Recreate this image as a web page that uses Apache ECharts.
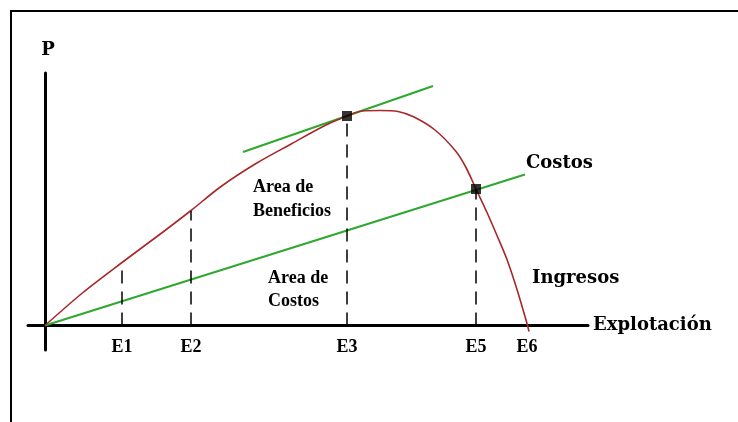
<!DOCTYPE html>
<html>
<head>
<meta charset="utf-8">
<script src="https://cdn.jsdelivr.net/npm/echarts@6.0.0/dist/echarts.min.js"></script>
<style>
  html, body { margin: 0; padding: 0; background: #fff; }
  #chart { width: 738px; height: 422px; }
</style>
</head>
<body>
<div id="chart"></div>
<script>
// curva de ingresos (x = explotacion, y = P)
const ingresos = [
  [0, 0], [38, 33], [77, 63], [120, 95], [146, 115], [176, 139], [211, 162],
  [247, 182], [280, 200], [302, 209.5], [317, 214.5], [335, 215], [353, 214],
  [369, 208.5], [390, 195.5], [411, 174], [421, 158], [431, 136.5],
  [442, 113], [452, 90], [462, 66], [472, 36], [482, 2], [484, -6]
]
const costos = [[0, 0], [480, 151]]
const tangente = [[198, 173.5], [388, 239.5]]
const puntos = [[302, 209.5], [431, 136.5]]

// marcas del eje x
const ePos = [77, 146, 302, 431, 482]
const eLabels = ['E1', 'E2', 'E3', 'E5', 'E6']
// altura de las lineas discontinuas
const eTop = [63, 114.5, 209.5, 136.5]

const chart = echarts.init(document.getElementById('chart'))

const dashLines = eTop.map((h, i) => [{ coord: [ePos[i], 0] }, { coord: [ePos[i], h] }])

const serifBold = 'bold 18px "Liberation Serif"'
const wideBold = 'bold 18px "DejaVu Serif"'

const option = {
  backgroundColor: '#fff',
  animation: false,
  grid: { left: 28, right: 150, top: 73, bottom: 72 },
  xAxis: {
    type: 'value',
    min: -17,
    max: 543,
    name: 'Explotación',
    nameLocation: 'end',
    nameGap: 5,
    nameTextStyle: { color: '#000', fontFamily: 'DejaVu Serif', fontWeight: 'bold', fontSize: 18, padding: [4, 0, 0, 0] },
    axisLine: { onZero: true, lineStyle: { color: '#000', width: 3 } },
    axisTick: { show: false },
    splitLine: { show: false },
    axisLabel: {
      customValues: ePos,
      margin: -12,
      color: '#000',
      fontFamily: 'Liberation Serif',
      fontWeight: 'bold',
      fontSize: 18,
      formatter: function(v) {
        const i = ePos.indexOf(v)
        return i >= 0 ? eLabels[i] : ''
      }
    }
  },
  yAxis: {
    type: 'value',
    min: -24.5,
    max: 252.5,
    name: 'P',
    nameLocation: 'end',
    nameGap: 14,
    nameTextStyle: { color: '#000', fontFamily: 'DejaVu Serif', fontWeight: 'bold', fontSize: 18, padding: [0, 0, 0, 6] },
    axisLine: { onZero: true, lineStyle: { color: '#000', width: 3 } },
    axisTick: { show: false },
    axisLabel: { show: false },
    splitLine: { show: false }
  },
  series: [
    {
      name: 'Costos',
      type: 'line',
      data: costos,
      symbol: 'none',
      lineStyle: { color: '#2ea82e', width: 2 },
      z: 3
    },
    {
      name: 'Tangente',
      type: 'line',
      data: tangente,
      symbol: 'none',
      lineStyle: { color: '#2ea82e', width: 2 },
      z: 3
    },
    {
      name: 'Ingresos',
      type: 'line',
      data: ingresos,
      symbol: 'none',
      smooth: 0.3,
      lineStyle: { color: '#a8282a', width: 1.6 },
      z: 4,
      markLine: {
        silent: true,
        symbol: 'none',
        label: { show: false },
        lineStyle: { color: '#000', width: 1.5, type: [13, 8] },
        data: dashLines
      }
    },
    {
      name: 'Puntos',
      type: 'scatter',
      data: puntos,
      symbol: 'rect',
      symbolSize: 10,
      itemStyle: { color: '#000' },
      z: 5
    }
  ],
  graphic: [
    { type: 'rect', shape: { x: 11, y: 11, width: 740, height: 430 }, style: { fill: 'none', stroke: '#000', lineWidth: 2 } },
    { type: 'text', x: 526, y: 163, style: { text: 'Costos', font: wideBold, fill: '#000', verticalAlign: 'middle' } },
    { type: 'text', x: 532, y: 278, style: { text: 'Ingresos', font: wideBold, fill: '#000', verticalAlign: 'middle' } },
    { type: 'text', x: 253, y: 175, style: { text: 'Area de\nBeneficios', font: serifBold, lineHeight: 24, fill: '#000' } },
    { type: 'text', x: 268, y: 267, style: { text: 'Area de\nCostos', font: serifBold, lineHeight: 23, fill: '#000' } }
  ]
}

chart.setOption(option)
</script>
</body>
</html>
